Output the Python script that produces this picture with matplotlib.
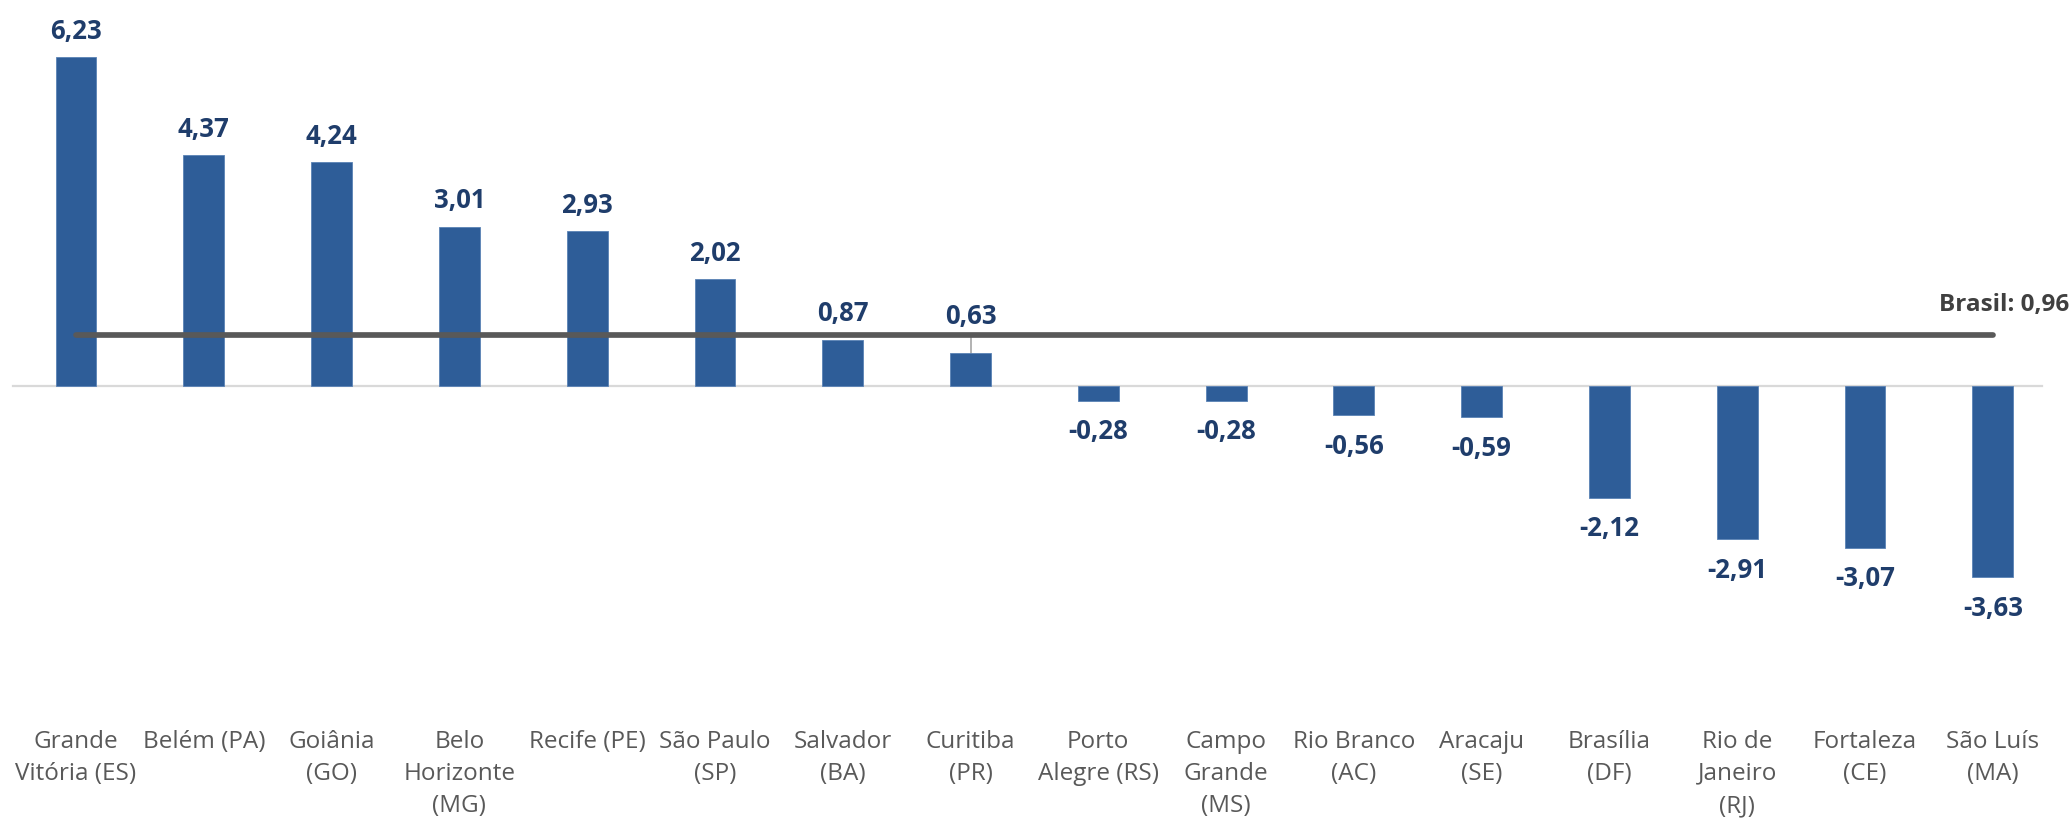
import matplotlib
matplotlib.use("Agg")
import matplotlib.pyplot as plt

plt.rcParams['font.family'] = ['Open Sans', 'DejaVu Sans']

# variação por região metropolitana (%)
regioes = ["Grande\nVitória (ES)", "Belém (PA)", "Goiânia\n(GO)", "Belo\nHorizonte\n(MG)",
           "Recife (PE)", "São Paulo\n(SP)", "Salvador\n(BA)", "Curitiba\n(PR)",
           "Porto\nAlegre (RS)", "Campo\nGrande\n(MS)", "Rio Branco\n(AC)", "Aracaju\n(SE)",
           "Brasília\n(DF)", "Rio de\nJaneiro\n(RJ)", "Fortaleza\n(CE)", "São Luís\n(MA)"]
variacao = [6.23, 4.37, 4.24, 3.01, 2.93, 2.02, 0.87, 0.63,
            -0.28, -0.28, -0.56, -0.59, -2.12, -2.91, -3.07, -3.63]
brasil = 0.96

bar_color = '#2E5D98'
label_color = '#1F3D6B'


def fmt(v):
    return f"{v:.2f}".replace('.', ',')


fig = plt.figure(figsize=(20.72, 8.21), dpi=100)
ax = fig.add_axes([0, 0.123, 1, 0.877])

x = list(range(len(regioes)))
ax.bar(x, variacao, width=0.32, color=bar_color, edgecolor='#5A82B5', linewidth=0.6, zorder=2)

# eixo zero
ax.axhline(0, xmin=0.0063, xmax=0.9855, color='#D9D9D9', lw=1.6, zorder=1)

# linha Brasil
ax.plot([x[0], x[-1]], [brasil, brasil], color='#595959', lw=4.1,
        solid_capstyle='round', zorder=3)
ax.annotate(f"Brasil: {fmt(brasil)}", xy=(1, brasil), xycoords=('axes fraction', 'data'),
            xytext=(-3, 30), textcoords='offset pixels', ha='right', va='center',
            fontsize=17.5, fontweight='bold', color='#404040')

# rótulos de valor
for i, v in enumerate(variacao):
    if v >= 0:
        off = 26
        if i == 7:
            # rótulo acima da linha Brasil, com linha guia
            off = 36
            ax.plot([i, i], [v, brasil], color='#A6A6A6', lw=1.2, zorder=1)
    else:
        off = -31
    ax.annotate(fmt(v), xy=(i, v), xytext=(0, off), textcoords='offset pixels',
                ha='center', va='center', fontsize=18.5, fontweight='bold', color=label_color)

ax.set_xlim(-0.595, 15.62)
ax.set_ylim(-6.33, 7.31)
ax.set_xticks(x)
ax.set_xticklabels(regioes, fontsize=17.5, color='#595959', linespacing=1.45)
ax.tick_params(axis='x', length=0, pad=7)
ax.set_yticks([])
for s in ax.spines.values():
    s.set_visible(False)

fig.savefig("out.png", dpi=100)
